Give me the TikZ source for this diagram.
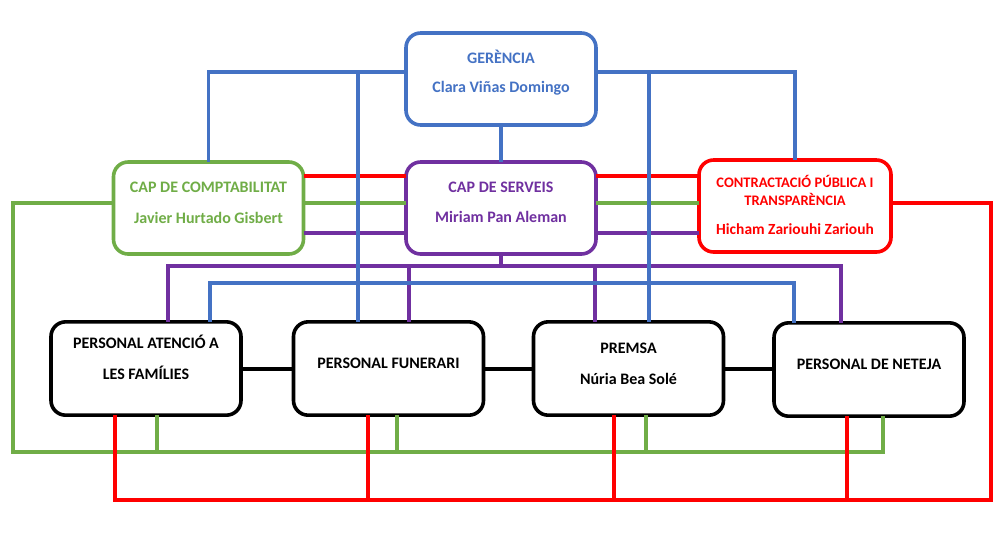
\documentclass[tikz,border=0pt]{standalone}
\usepackage{fontspec}
\setmainfont{Carlito}
\definecolor{cblue}{HTML}{4472C4}
\definecolor{cgreen}{HTML}{70AD47}
\definecolor{cpurple}{HTML}{7030A0}
\definecolor{cred}{HTML}{FF0000}
\tikzset{
  box/.style={draw, line width=2.7pt, rounded corners=11pt, inner sep=0pt, outer sep=0pt, fill=white},
  midbox/.style={box, minimum width=142.5pt, minimum height=69pt},
  lowbox/.style={box, draw=black, minimum width=142.5pt, minimum height=70pt},
  txt/.style={font=\fontsize{12pt}{14pt}\selectfont\bfseries, inner sep=0pt},
  smalltxt/.style={font=\fontsize{10.9pt}{13pt}\selectfont\bfseries, inner sep=0pt},
  conn/.style={line width=2.3pt},
}
\begin{document}
\begin{tikzpicture}[x=0.75pt,y=-0.75pt]
\useasboundingbox (0,0) rectangle (1007,537);
% level coordinates
\coordinate (yG) at (0,72);
\coordinate (yP) at (0,266);
\coordinate (yB) at (0,283);
\coordinate (yGr) at (0,452);
\coordinate (yR) at (0,500);
\coordinate (yRed) at (0,176);
\coordinate (yGreen) at (0,203);
\coordinate (yPurp) at (0,233);
\coordinate (yK) at (0,369);
\coordinate (xGL) at (13,0);
\coordinate (xRR) at (991,0);
\coordinate (b1) at (358,0);
\coordinate (b2) at (649,0);
\coordinate (b3) at (210,0);
\coordinate (b4) at (794,0);
\coordinate (p1) at (168,0);
\coordinate (p2) at (409,0);
\coordinate (p3) at (595,0);
\coordinate (p4) at (841,0);
\coordinate (g1) at (157,0);
\coordinate (g2) at (397,0);
\coordinate (g3) at (646,0);
\coordinate (g4) at (883,0);
\coordinate (r1) at (115,0);
\coordinate (r2) at (368,0);
\coordinate (r3) at (614,0);
\coordinate (r4) at (847,0);

% boxes
\node[midbox, draw=cblue] (ger) at (501,79) {};
\node[midbox, draw=cgreen] (comp) at (208.5,208) {};
\node[midbox, draw=cpurple] (serv) at (501,208) {};
\node[midbox, draw=cred, minimum width=144pt] (cont) at (795,206) {};
\node[lowbox] (aten) at (146,368.5) {};
\node[lowbox] (fun) at (388.5,368.5) {};
\node[lowbox] (prem) at (628.5,368.5) {};
\node[lowbox] (net) at (869,369.5) {};

% connectors
\begin{scope}[conn]
% green bottom bus
\draw[cgreen] (comp.west |- yGreen) -- (xGL |- yGreen) -- (xGL |- yGr) -- (g4 |- yGr) -- (net.south -| g4);
\draw[cgreen] (aten.south -| g1) -- (g1 |- yGr);
\draw[cgreen] (fun.south -| g2) -- (g2 |- yGr);
\draw[cgreen] (prem.south -| g3) -- (g3 |- yGr);
% red bottom bus
\draw[cred] (cont.east |- yGreen) -- (xRR |- yGreen) -- (xRR |- yR) -- (r1 |- yR) -- (aten.south -| r1);
\draw[cred] (fun.south -| r2) -- (r2 |- yR);
\draw[cred] (prem.south -| r3) -- (r3 |- yR);
\draw[cred] (net.south -| r4) -- (r4 |- yR);
% middle row links
\draw[cred] (comp.east |- yRed) -- (serv.west |- yRed);
\draw[cred] (serv.east |- yRed) -- (cont.west |- yRed);
\draw[cgreen] (comp.east |- yGreen) -- (serv.west |- yGreen);
\draw[cgreen] (serv.east |- yGreen) -- (cont.west |- yGreen);
\draw[cpurple] (comp.east |- yPurp) -- (serv.west |- yPurp);
\draw[cpurple] (serv.east |- yPurp) -- (cont.west |- yPurp);
% purple bus
\draw[cpurple] (serv.south) -- (serv.south |- yP);
\draw[cpurple] (aten.north -| p1) -- (p1 |- yP) -- (p4 |- yP) -- (net.north -| p4);
\draw[cpurple] (p2 |- yP) -- (fun.north -| p2);
\draw[cpurple] (p3 |- yP) -- (prem.north -| p3);
% blue lower bus
\draw[cblue] (aten.north -| b3) -- (b3 |- yB) -- (b4 |- yB) -- (net.north -| b4);
% blue top
\draw[cblue] (ger.west |- yG) -- (comp.north |- yG) -- (comp.north);
\draw[cblue] (ger.east |- yG) -- (cont.north |- yG) -- (cont.north);
\draw[cblue] (b1 |- yG) -- (fun.north -| b1);
\draw[cblue] (b2 |- yG) -- (prem.north -| b2);
\draw[cblue] (ger.south) -- (serv.north);
% black links
\draw[black] (aten.east |- yK) -- (fun.west |- yK);
\draw[black] (fun.east |- yK) -- (prem.west |- yK);
\draw[black] (prem.east |- yK) -- (net.west |- yK);
\end{scope}

% texts
\node[txt, text=cblue] (t1) at (501,57) {GERÈNCIA};
\node[txt, text=cblue] (t2) at (501,88) {Clara Viñas Domingo};
\node[txt, text=cgreen] (t3) at (208.5,187) {CAP DE COMPTABILITAT};
\node[txt, text=cgreen] (t4) at (208.5,218) {Javier Hurtado Gisbert};
\node[txt, text=cpurple] (t5) at (501,187) {CAP DE SERVEIS};
\node[txt, text=cpurple] (t6) at (501,217) {Miriam Pan Aleman};
\node[smalltxt, text=cred] (t7) at (795,181) {CONTRACTACIÓ PÚBLICA I};
\node[smalltxt, text=cred] (t8) at (795,199) {TRANSPARÈNCIA};
\node[txt, text=cred, font=\fontsize{11.6pt}{14pt}\selectfont\bfseries] (t9) at (795,229) {Hicham Zariouhi Zariouh};
\node[txt] (t10) at (146,342) {PERSONAL ATENCIÓ A};
\node[txt] (t11) at (146,373) {LES FAMÍLIES};
\node[txt] (t12) at (388.5,363) {PERSONAL FUNERARI};
\node[txt] (t13) at (628.5,348) {PREMSA};
\node[txt] (t14) at (628.5,379) {Núria Bea Solé};
\node[txt] (t15) at (869,364) {PERSONAL DE NETEJA};
\end{tikzpicture}
\end{document}
